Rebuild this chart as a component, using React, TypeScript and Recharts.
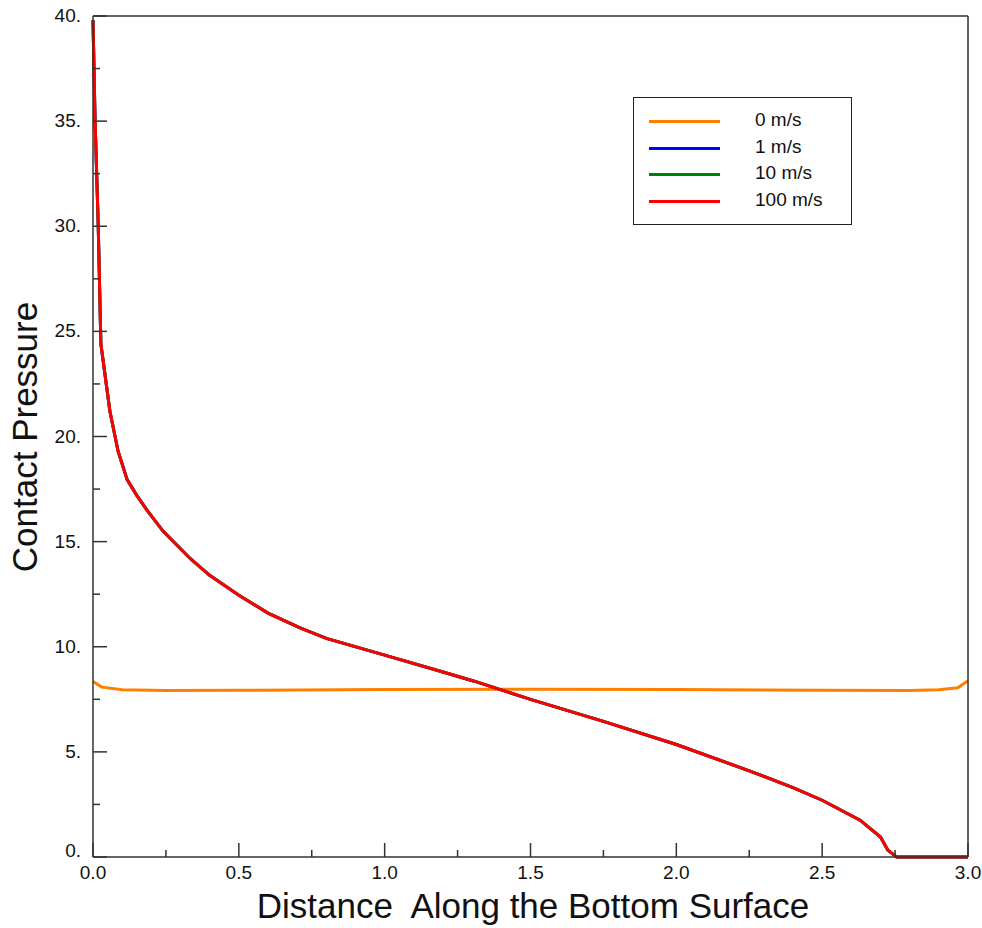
import { LineChart, Line, XAxis, YAxis, Label } from "recharts";

// distance along the bottom surface
const redX = [0, 0.007, 0.018, 0.027, 0.058, 0.086, 0.117, 0.15, 0.185, 0.24, 0.333, 0.4, 0.5, 0.6, 0.71, 0.8, 1.0, 1.2, 1.31, 1.5, 1.75, 2.0, 2.25, 2.4, 2.5, 2.63, 2.7, 2.725, 2.755, 3.0];
// contact pressure for 1, 10 and 100 m/s (curves coincide)
const redY = [39.8, 35.1, 30.0, 24.4, 21.2, 19.3, 17.95, 17.2, 16.5, 15.5, 14.2, 13.4, 12.45, 11.6, 10.9, 10.4, 9.6, 8.8, 8.35, 7.5, 6.45, 5.35, 4.1, 3.3, 2.7, 1.75, 0.95, 0.33, 0, 0];

const orangeX = [0, 0.03, 0.1, 0.25, 0.5, 1.0, 1.5, 2.0, 2.5, 2.8, 2.9, 2.965, 3.0];
const orangeY = [8.35, 8.08, 7.96, 7.92, 7.93, 7.97, 7.98, 7.97, 7.93, 7.92, 7.96, 8.05, 8.38];

const seriesNames = ["0 m/s", "1 m/s", "10 m/s", "100 m/s"];
const seriesColors = ["#ff8000", "#0000ff", "#008000", "#ff0000"];

const xTicks = [0, 0.25, 0.5, 0.75, 1, 1.25, 1.5, 1.75, 2, 2.25, 2.5, 2.75, 3];
const yTicks = [0, 2.5, 5, 7.5, 10, 12.5, 15, 17.5, 20, 22.5, 25, 27.5, 30, 32.5, 35, 37.5, 40];

const toPoints = (xs: number[], ys: number[]) => xs.map((x, i) => ({ x, y: ys[i] }));

const orangeData = toPoints(orangeX, orangeY);
const redData = toPoints(redX, redY);
const seriesData = [orangeData, redData, redData, redData];

const FONT = "'Liberation Sans', Arial, sans-serif";
const AXIS = "#333";

const isMajorX = (v: number) => Math.abs(v * 2 - Math.round(v * 2)) < 1e-6;
const isMajorY = (v: number) => Math.abs(v / 5 - Math.round(v / 5)) < 1e-6;

const BottomTick = (props: any) => {
    const { x, y, payload } = props;
    const major = isMajorX(payload.value);
    return (
        <g>
            <line x1={x} y1={y} x2={x} y2={y - (major ? 14 : 7)} stroke={AXIS} strokeWidth={1.5} />
            {major && (
                <text x={x} y={y + 22} textAnchor="middle" fontSize={19} fontFamily={FONT} fill="#111">
                    {payload.value.toFixed(1)}
                </text>
            )}
        </g>
    );
};

const TopTick = (props: any) => {
    const { x, y, payload } = props;
    const major = isMajorX(payload.value);
    return <line x1={x} y1={y} x2={x} y2={y + (major ? 14 : 7)} stroke={AXIS} strokeWidth={1.5} />;
};

const LeftTick = (props: any) => {
    const { x, y, payload } = props;
    const major = isMajorY(payload.value);
    const dy = payload.value === 0 ? 0 : 6;
    return (
        <g>
            <line x1={x} y1={y} x2={x + (major ? 14 : 7)} y2={y} stroke={AXIS} strokeWidth={1.5} />
            {major && (
                <text x={x - 12} y={y + dy} textAnchor="end" fontSize={19} fontFamily={FONT} fill="#111">
                    {payload.value.toFixed(0) + "."}
                </text>
            )}
        </g>
    );
};

const RightTick = (props: any) => {
    const { x, y, payload } = props;
    const major = isMajorY(payload.value);
    return <line x1={x} y1={y} x2={x - (major ? 14 : 7)} y2={y} stroke={AXIS} strokeWidth={1.5} />;
};

const LegendBox = () => (
    <div
        style={{
            position: "absolute",
            left: 633,
            top: 97,
            width: 219,
            height: 128,
            border: "1px solid #222",
            background: "#fff",
            boxSizing: "border-box",
            fontFamily: FONT,
        }}
    >
        {seriesNames.map((name, i) => (
            <div key={name} style={{ position: "absolute", left: 0, top: 10 + i * 26.7, height: 26, width: "100%" }}>
                <div style={{ position: "absolute", left: 15, top: 12, width: 71, height: 3, background: seriesColors[i] }} />
                <span style={{ position: "absolute", left: 121, top: 1, fontSize: 19, color: "#111", whiteSpace: "pre" }}>
                    {name}
                </span>
            </div>
        ))}
    </div>
);

export default function App() {
    return (
        <div style={{ position: "absolute", left: 0, top: 0, width: 982, height: 928, background: "#fff" }}>
            <LineChart width={982} height={928} margin={{ top: 15, right: 13, left: 13, bottom: 31 }}>
                <XAxis
                    xAxisId={0}
                    dataKey="x"
                    type="number"
                    domain={[0, 3]}
                    ticks={xTicks}
                    interval={0}
                    tickSize={0}
                    tickMargin={0}
                    height={40}
                    tick={<BottomTick />}
                    axisLine={{ stroke: AXIS, strokeWidth: 1.5 }}
                    allowDuplicatedCategory={false}
                >
                    <Label
                        content={() => (
                            <text x={533} y={918} textAnchor="middle" fontSize={35} fontFamily={FONT} fill="#111" style={{ whiteSpace: "pre" }}>
                                {"Distance  Along the Bottom Surface"}
                            </text>
                        )}
                    />
                </XAxis>
                <XAxis
                    xAxisId="top"
                    orientation="top"
                    dataKey="x"
                    type="number"
                    domain={[0, 3]}
                    ticks={xTicks}
                    interval={0}
                    tickSize={0}
                    tickMargin={0}
                    height={1}
                    tick={<TopTick />}
                    axisLine={{ stroke: AXIS, strokeWidth: 1.5 }}
                />
                <YAxis
                    yAxisId={0}
                    type="number"
                    domain={[0, 40]}
                    ticks={yTicks}
                    interval={0}
                    tickSize={0}
                    tickMargin={0}
                    width={80}
                    tick={<LeftTick />}
                    axisLine={{ stroke: AXIS, strokeWidth: 1.5 }}
                >
                    <Label
                        content={() => (
                            <text
                                x={37}
                                y={437}
                                transform="rotate(-90 37 437)"
                                textAnchor="middle"
                                fontSize={35}
                                fontFamily={FONT}
                                fill="#111"
                            >
                                Contact Pressure
                            </text>
                        )}
                    />
                </YAxis>
                <YAxis
                    yAxisId="right"
                    orientation="right"
                    type="number"
                    domain={[0, 40]}
                    ticks={yTicks}
                    interval={0}
                    tickSize={0}
                    tickMargin={0}
                    width={1}
                    tick={<RightTick />}
                    axisLine={{ stroke: AXIS, strokeWidth: 1.5 }}
                />
                {seriesNames.map((name, i) => (
                    <Line
                        key={name}
                        xAxisId={0}
                        yAxisId={0}
                        data={seriesData[i]}
                        dataKey="y"
                        name={name}
                        type="linear"
                        stroke={seriesColors[i]}
                        strokeWidth={3}
                        dot={false}
                        isAnimationActive={false}
                    />
                ))}
            </LineChart>
            <LegendBox />
        </div>
    );
}
